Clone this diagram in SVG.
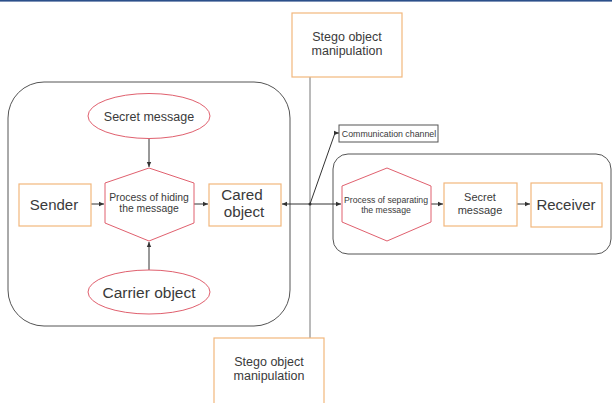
<svg xmlns="http://www.w3.org/2000/svg" width="612" height="403" viewBox="0 0 612 403">
<defs>
<style>
text{font-family:"Liberation Sans",Arial,sans-serif;fill:#3a3a3a;text-anchor:middle}
.box{fill:#fff;stroke:#f2b77c;stroke-width:1.2}
.red{fill:#fff;stroke:#e0606e;stroke-width:1}
.cont{fill:none;stroke:#555;stroke-width:1}
.ln{fill:none;stroke:#333;stroke-width:1}
.gl{fill:none;stroke:#777;stroke-width:1}
</style>
<marker id="ah" markerWidth="6" markerHeight="6" refX="5" refY="3" orient="auto" markerUnits="userSpaceOnUse">
<path d="M0,0.8 L5,3 L0,5.2 Z" fill="#333"/>
</marker>
</defs>
<rect x="0" y="0" width="612" height="403" fill="#fff"/>
<rect x="0" y="0" width="612" height="1.6" fill="#2b4f8a"/>
<g id="left-container"><rect class="cont" x="8" y="82" width="282" height="244" rx="36"/></g>
<g id="right-container"><rect class="cont" x="333" y="154" width="278" height="100" rx="15"/></g>
<g id="connectors">
<line class="gl" x1="310" y1="77" x2="310" y2="338"/>
<line class="ln" x1="149" y1="139" x2="149" y2="167" marker-end="url(#ah)"/>
<line class="ln" x1="149" y1="270" x2="149" y2="242" marker-end="url(#ah)"/>
<line class="ln" x1="91" y1="204" x2="104" y2="204" marker-end="url(#ah)"/>
<line class="ln" x1="194" y1="204" x2="208" y2="204" marker-end="url(#ah)"/>
<line class="ln" x1="310" y1="204" x2="282" y2="204" marker-end="url(#ah)"/>
<line class="ln" x1="310" y1="204" x2="341" y2="204" marker-end="url(#ah)"/>
<polyline class="ln" points="310,204 335,133 339,133" marker-end="url(#ah)"/>
<circle cx="310" cy="204" r="1.5" fill="#333"/>
<line class="ln" x1="431" y1="204" x2="443" y2="204" marker-end="url(#ah)"/>
<line class="ln" x1="517" y1="204" x2="530" y2="204" marker-end="url(#ah)"/>
</g>
<g id="stego-top"><rect class="box" x="292" y="13" width="110" height="64"/><text x="347" y="41" font-size="12.5">Stego object</text><text x="347" y="55" font-size="12.5">manipulation</text></g>
<g id="stego-bottom"><rect class="box" x="214" y="338" width="110" height="70"/><text x="269" y="366" font-size="12.5">Stego object</text><text x="269" y="380" font-size="12.5">manipulation</text></g>
<g id="secret-message-ellipse"><ellipse class="red" cx="149" cy="116" rx="61" ry="22.5"/><text x="149" y="120.5" font-size="12.5">Secret message</text></g>
<g id="carrier-object"><ellipse class="red" cx="149" cy="292" rx="61" ry="22"/><text x="149" y="297.5" font-size="15.5">Carrier object</text></g>
<g id="hiding-process"><polygon class="red" points="149,168 194,183 194,223 149,241 105,223 105,183"/><text x="149" y="200.5" font-size="10.4">Process of hiding</text><text x="149" y="211.5" font-size="10.4">the message</text></g>
<g id="sender"><rect class="box" x="19" y="184" width="72" height="42"/><text x="54" y="209.5" font-size="15">Sender</text></g>
<g id="cared-object"><rect class="box" x="209" y="184" width="72" height="42"/><text x="242" y="200" font-size="15.2">Cared</text><text x="244" y="216.5" font-size="15.2">object</text></g>
<g id="communication-channel"><rect x="339" y="125" width="99" height="17" fill="#fff" stroke="#555" stroke-width="1"/><text x="389" y="136.5" font-size="8.8">Communication channel</text></g>
<g id="separating-process"><polygon class="red" points="387,168 431,186 431,222 387,241 342,222 342,186"/><text x="386" y="203" font-size="8.7">Process of separating</text><text x="386" y="213" font-size="8.7">the message</text></g>
<g id="secret-message-box"><rect class="box" x="444" y="183" width="73" height="43"/><text x="480" y="201" font-size="11">Secret</text><text x="480" y="213.5" font-size="11">message</text></g>
<g id="receiver"><rect class="box" x="531" y="183" width="71" height="44"/><text x="566" y="210" font-size="15">Receiver</text></g>
</svg>
